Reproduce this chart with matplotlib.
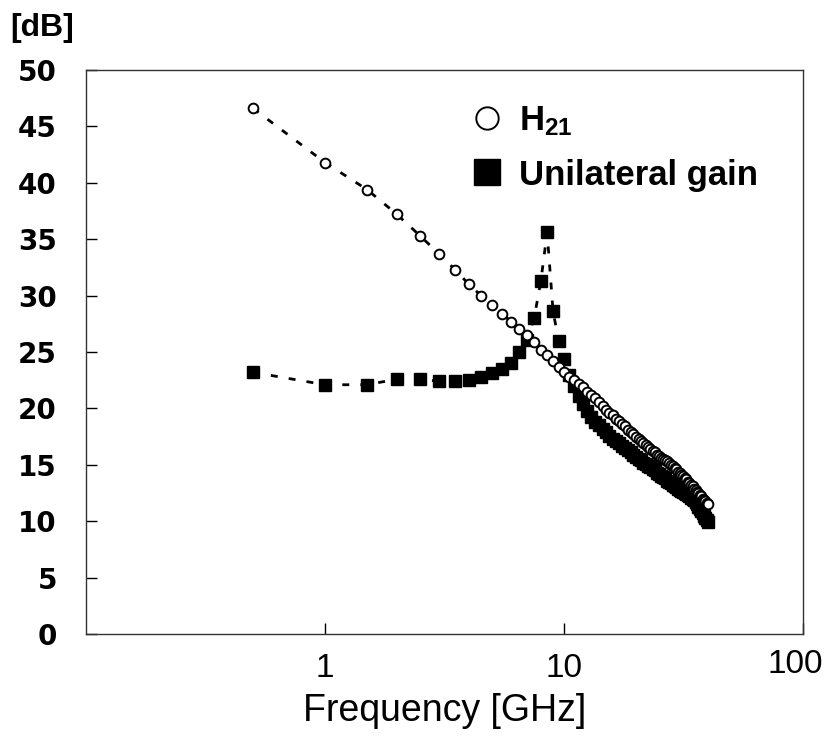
import matplotlib
matplotlib.use('Agg')
import matplotlib.pyplot as plt
import matplotlib.transforms as mtransforms
import numpy as np

plt.rcParams['mathtext.fontset'] = 'custom'
plt.rcParams['mathtext.rm'] = 'Liberation Sans:bold'
plt.rcParams['mathtext.it'] = 'Liberation Sans:bold'

# frequency points [GHz], 0.5 GHz step
freq = np.arange(1, 81) * 0.5

h21 = [46.6, 41.8, 39.4, 37.2, 35.3, 33.7, 32.3, 31.0, 30.0, 29.2,
       28.4, 27.7, 27.0, 26.5, 25.9, 25.2, 24.7, 24.2, 23.7, 23.2,
       22.8, 22.5, 22.2, 21.9, 21.5, 21.2, 20.9, 20.6, 20.2, 19.9,
       19.6, 19.4, 19.1, 18.9, 18.6, 18.4, 18.1, 17.9, 17.7, 17.5,
       17.3, 17.1, 16.9, 16.8, 16.6, 16.4, 16.2, 16.1, 15.9, 15.8,
       15.6, 15.5, 15.4, 15.3, 15.2, 15.0, 14.9, 14.7, 14.6, 14.4,
       14.3, 14.1, 14.0, 13.8, 13.7, 13.5, 13.4, 13.2, 13.1, 12.9,
       12.8, 12.6, 12.5, 12.3, 12.2, 12.0, 11.9, 11.8, 11.6, 11.5]

ugain = [23.2, 22.1, 22.1, 22.6, 22.6, 22.4, 22.4, 22.5, 22.8, 23.1,
         23.5, 24.0, 25.0, 26.1, 28.0, 31.3, 35.6, 28.6, 26.0, 24.4,
         23.0, 22.0, 21.1, 20.4, 19.8, 19.2, 18.8, 18.5, 18.2, 17.9,
         17.6, 17.3, 17.1, 16.9, 16.7, 16.5, 16.3, 16.1, 15.9, 15.7,
         15.5, 15.4, 15.2, 15.1, 14.9, 14.8, 14.6, 14.5, 14.3, 14.2,
         14.0, 13.9, 13.8, 13.6, 13.5, 13.4, 13.2, 13.1, 13.0, 12.9,
         12.8, 12.7, 12.6, 12.5, 12.4, 12.3, 12.2, 12.1, 12.0, 11.9,
         11.7, 11.5, 11.3, 11.1, 10.9, 10.7, 10.5, 10.3, 10.1, 9.9]

yticks = [0, 5, 10, 15, 20, 25, 30, 35, 40, 45, 50]
xticks = [1, 10, 100]
xticklabels = ['1', '10', '100']

fig = plt.figure(figsize=(8.28, 7.49), dpi=100)
ax = fig.add_axes([0.1039, 0.1535, 0.8659, 0.753])

dash = (0, (2.5, 4))
ax.plot(freq, h21, color='black', linestyle=dash, linewidth=2.0, zorder=1)
ax.plot(freq, ugain, color='black', linestyle=dash, linewidth=2.0, zorder=1)
ax.plot(freq, h21, 'o', color='black', markerfacecolor='white', markersize=7,
        markeredgewidth=1.4, linestyle='none', label=r'$\mathrm{H}_{21}$', zorder=3)
ax.plot(freq, ugain, 's', color='black', markersize=8, linestyle='none',
        label='Unilateral gain', zorder=2)

ax.set_xscale('log')
ax.set_xlim(0.1, 100)
ax.set_ylim(0, 50)
ax.set_xticks(xticks)
ax.set_xticklabels(xticklabels, fontsize=24, family='Liberation Sans')
ax.xaxis.set_minor_locator(matplotlib.ticker.NullLocator())
ax.set_yticks(yticks)
ax.set_yticklabels([str(v) for v in yticks], fontsize=20, fontweight='bold',
                   family='DejaVu Sans')
ax.tick_params(axis='both', direction='in', length=8, width=1, color='black')
ax.tick_params(axis='x', pad=14)
ax.tick_params(axis='y', pad=21)

# the "100" label sits a little higher and to the left in the original
lab100 = ax.xaxis.get_major_ticks()[2].label1
lab100.set_y(0.008)
lab100.set_transform(lab100.get_transform() +
                     mtransforms.ScaledTranslation(-0.08, 0, fig.dpi_scale_trans))

for s in ax.spines.values():
    s.set_linewidth(1.0)
    s.set_color('#333333')

ax.set_xlabel('Frequency [GHz]', fontsize=27, family='Liberation Sans', labelpad=6)
fig.text(0.012, 0.982, '[dB]', fontsize=23, fontweight='bold', family='Liberation Sans',
         va='top')

leg = ax.legend(loc='upper left', bbox_to_anchor=(0.497, 0.995), frameon=False,
                markerscale=2.3, handlelength=0.8, handletextpad=0.5,
                labelspacing=0.6, prop={'family': 'Liberation Sans', 'weight': 'bold', 'size': 25})

fig.savefig('out.png', dpi=100)
